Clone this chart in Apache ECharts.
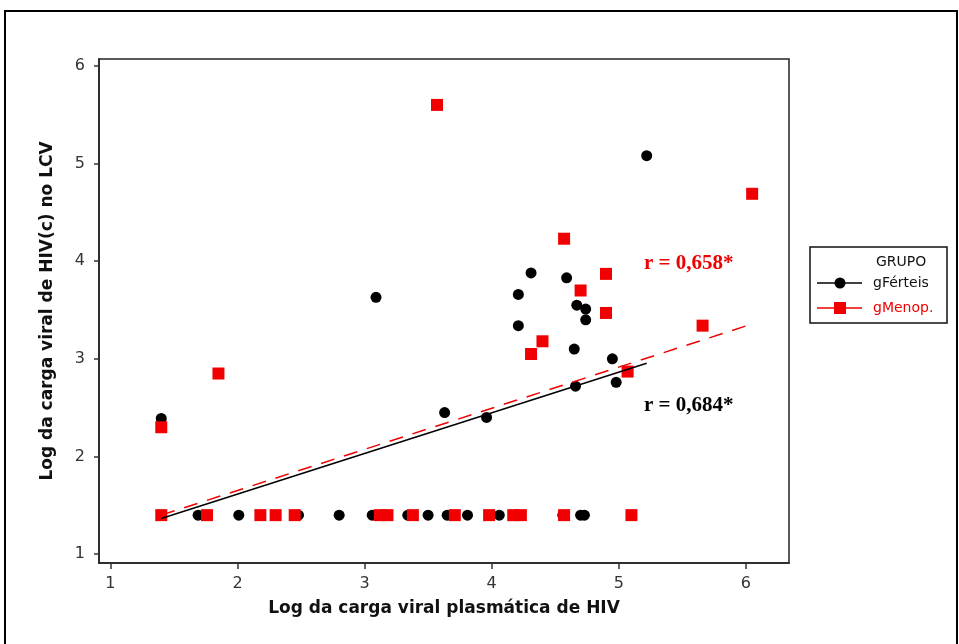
<!DOCTYPE html>
<html>
<head>
<meta charset="utf-8">
<script src="https://cdn.jsdelivr.net/npm/echarts@6/dist/echarts.min.js"></script>
<style>
html,body{margin:0;padding:0;background:#fff;}
#chart{width:959px;height:644px;}
</style>
</head>
<body>
<div id="chart"></div>
<script>
// ---- data ----
const xTicks = [1, 2, 3, 4, 5, 6];
const yTicks = [1, 2, 3, 4, 5, 6];

const fertX = [1.40, 3.09, 5.22, 4.31, 4.59, 4.21, 4.67, 4.74, 4.74, 4.21, 4.65, 4.95, 4.98, 4.66, 3.63, 3.96,
               1.69, 2.01, 2.48, 2.80, 3.06, 3.34, 3.50, 3.65, 3.81, 4.06, 4.56, 4.70, 4.73];
const fertY = [2.39, 3.63, 5.08, 3.88, 3.83, 3.66, 3.55, 3.51, 3.40, 3.34, 3.10, 3.00, 2.76, 2.72, 2.45, 2.40,
               1.40, 1.40, 1.40, 1.40, 1.40, 1.40, 1.40, 1.40, 1.40, 1.40, 1.40, 1.40, 1.40];

const menoX = [3.57, 6.05, 4.57, 4.90, 4.70, 4.90, 5.66, 4.40, 4.31, 5.07, 1.85, 1.40,
               1.40, 1.76, 2.18, 2.30, 2.45, 3.12, 3.18, 3.38, 3.71, 3.98, 4.17, 4.23, 4.57, 5.10];
const menoY = [5.60, 4.69, 4.23, 3.87, 3.70, 3.47, 3.34, 3.18, 3.05, 2.87, 2.85, 2.30,
               1.40, 1.40, 1.40, 1.40, 1.40, 1.40, 1.40, 1.40, 1.40, 1.40, 1.40, 1.40, 1.40, 1.40];

// fitted regression line end points
const fitFertX = [1.40, 5.22];
const fitFertY = [1.365, 2.955];
const fitMenoX = [1.40, 6.05];
const fitMenoY = [1.40, 3.357];

const seriesNames = ['gFérteis', 'gMenop.'];
const legendTitle = 'GRUPO';
const rLabels = ['r = 0,684*', 'r = 0,658*'];
const xTitle = 'Log da carga viral plasmática de HIV';
const yTitle = 'Log da carga viral de HIV(c) no LCV';

const zip = (a, b) => a.map((v, i) => [v, b[i]]);

const chart = echarts.init(document.getElementById('chart'), null, {renderer: 'canvas'});

const axisCommon = {
  type: 'value',
  splitLine: {show: false},
  axisLine: {show: true, onZero: false, lineStyle: {color: '#222', width: 1.5}},
  nameLocation: 'middle',
  nameTextStyle: {fontFamily: 'DejaVu Sans', fontWeight: 'bold', fontSize: 17, color: '#111'}
};

const option = {
  animation: false,
  backgroundColor: '#fff',
  grid: {left: 99, top: 59, right: 170, bottom: 81, show: true, borderColor: '#222', borderWidth: 1.5, backgroundColor: '#fff'},
  xAxis: Object.assign({}, axisCommon, {
    min: 0.91, max: 6.34,
    name: xTitle, nameGap: 37,
    axisTick: {show: true, length: 6, customValues: xTicks, lineStyle: {color: '#333', width: 1.5}},
    axisLabel: {customValues: xTicks, fontFamily: 'DejaVu Sans', fontSize: 16, color: '#333', margin: 13}
  }),
  yAxis: Object.assign({}, axisCommon, {
    min: 0.91, max: 6.07,
    name: yTitle, nameGap: 43, nameRotate: 90,
    axisTick: {show: true, length: 5, customValues: yTicks, lineStyle: {color: '#333', width: 1.5}},
    axisLabel: {customValues: yTicks, fontFamily: 'DejaVu Sans', fontSize: 16, color: '#333', margin: 14}
  }),
  series: [
    {
      name: seriesNames[0], type: 'scatter', symbol: 'circle', symbolSize: 11,
      itemStyle: {color: '#000', opacity: 1}, data: zip(fertX, fertY), z: 2
    },
    {
      name: seriesNames[1], type: 'scatter', symbol: 'rect', symbolSize: 12,
      itemStyle: {color: '#f00000', opacity: 1}, data: zip(menoX, menoY), z: 3
    },
    {
      name: 'fit ' + seriesNames[0], type: 'line', showSymbol: false, symbol: 'none', silent: true,
      lineStyle: {color: '#000', width: 1.5, type: 'solid'}, data: zip(fitFertX, fitFertY), z: 4
    },
    {
      name: 'fit ' + seriesNames[1], type: 'line', showSymbol: false, symbol: 'none', silent: true,
      lineStyle: {color: '#f00000', width: 1.5, type: [14, 10]}, data: zip(fitMenoX, fitMenoY), z: 5
    }
  ],
  graphic: [
    {type: 'rect', shape: {x: 5, y: 11, width: 952, height: 650}, style: {fill: 'none', stroke: '#000', lineWidth: 2}, z: 100, silent: true},
    // legend box
    {type: 'rect', shape: {x: 810, y: 247, width: 137, height: 76}, style: {fill: '#fff', stroke: '#111', lineWidth: 1.5}, z: 100},
    {type: 'text', x: 876, y: 262, style: {text: legendTitle, font: '14px "DejaVu Sans"', fill: '#111', verticalAlign: 'middle'}, z: 101},
    {type: 'line', shape: {x1: 817, y1: 283, x2: 862, y2: 283}, style: {stroke: '#000', lineWidth: 1.5}, z: 101},
    {type: 'circle', shape: {cx: 840, cy: 283, r: 5.5}, style: {fill: '#000'}, z: 102},
    {type: 'text', x: 873, y: 283, style: {text: seriesNames[0], font: '14px "DejaVu Sans"', fill: '#111', verticalAlign: 'middle'}, z: 101},
    {type: 'line', shape: {x1: 817, y1: 308, x2: 862, y2: 308}, style: {stroke: '#f00000', lineWidth: 1.5}, z: 101},
    {type: 'rect', shape: {x: 834, y: 302, width: 12, height: 12}, style: {fill: '#f00000'}, z: 102},
    {type: 'text', x: 873, y: 308, style: {text: seriesNames[1], font: '14px "DejaVu Sans"', fill: '#f00000', verticalAlign: 'middle'}, z: 101},
    // correlation annotations
    {type: 'text', x: 644, y: 264, style: {text: rLabels[1], font: 'bold 21px "Liberation Serif"', fill: '#f00000', verticalAlign: 'middle'}, z: 101},
    {type: 'text', x: 644, y: 406, style: {text: rLabels[0], font: 'bold 21px "Liberation Serif"', fill: '#000', verticalAlign: 'middle'}, z: 101}
  ]
};
chart.setOption(option);
</script>
</body>
</html>
